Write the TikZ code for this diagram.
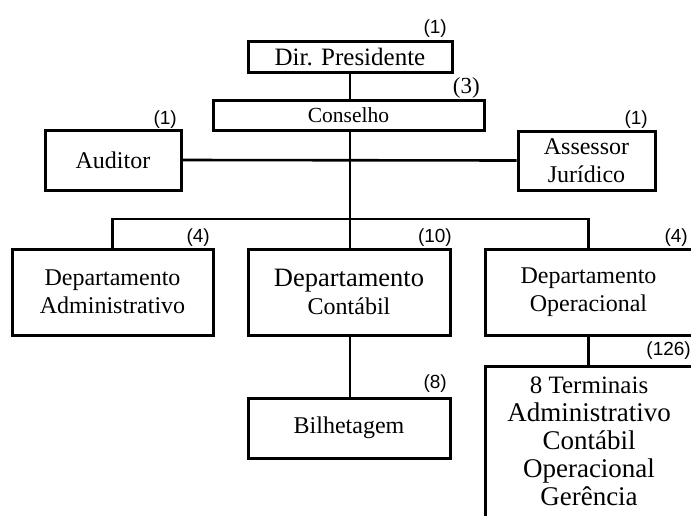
\documentclass[tikz,border=0pt]{standalone}
\usepackage{fontspec}
\setmainfont{Liberation Serif}
\newfontfamily\arialf{Liberation Sans}
\tikzset{
  box/.style={draw=black, line width=3pt, rectangle, inner sep=0pt, align=center},
  conn/.style={draw=black, line width=2.6pt},
  cnt/.style={anchor=base east, inner sep=0pt, font=\arialf\fontsize{19}{22}\selectfont},
  txt/.style={font=\fontsize{24}{28}\selectfont}
}
\begin{document}
\begin{tikzpicture}[x=1pt,y=-1pt]
\useasboundingbox (0,0) rectangle (691,515);
\clip (0,0) rectangle (691,515);
% boxes
\node[box, minimum width=204, minimum height=31, font=\fontsize{25}{28}\selectfont] (dir) at (350,56.5) {Dir. Presidente};
\node[box, minimum width=271, minimum height=30, font=\fontsize{21.5}{28}\selectfont] (cons) at (348.5,115) {Conselho};
\node[box, txt, minimum width=136, minimum height=60] (aud) at (113,160) {Auditor};
\node[box, txt, minimum width=137, minimum height=59] (ass) at (586.5,160.5) {Assessor\\Jurídico};
\node[box, txt, minimum width=201, minimum height=86] (adm) at (112.5,292) {Departamento\\Administrativo};
\node[box, minimum width=202, minimum height=86, font=\fontsize{26.5}{28}\selectfont] (cont) at (349,292) {Departamento\\{\fontsize{24}{28}\selectfont Contábil}};
\node[box, txt, minimum width=207, minimum height=86] (oper) at (588.5,292) {Departamento\\Operacional};
\node[box, txt, minimum width=202, minimum height=60] (bil) at (349,428) {Bilhetagem};
\node[box, minimum width=207, minimum height=164] (term) at (588.5,448) {};
\node[align=center, inner sep=0pt, font=\fontsize{27}{28}\selectfont] (termtext) at (589,441)
  {{\fontsize{25}{28}\selectfont 8 Terminais}\\Administrativo\\Contábil\\Operacional\\Gerência};
% counts
\node[cnt] (c1) at (447,33) {(1)};
\node[cnt, font=\fontsize{23}{26}\selectfont] (c3) at (480,93) {(3)};
\node[cnt] (c1a) at (177,124) {(1)};
\node[cnt] (c1b) at (648,124) {(1)};
\node[cnt] (c4a) at (210,242) {(4)};
\node[cnt] (c10) at (452,242) {(10)};
\node[cnt] (c4b) at (688,242) {(4)};
\node[cnt] (c8) at (447,388) {(8)};
\node[cnt] (c126) at (691,355) {(126)};
% connectors
\coordinate (bus) at (350,219);
\draw[conn] (dir.south) -- (cons.north -| dir.south);
\draw[conn] (cons.south -| dir.south) -- (bus);
\draw[conn] (aud.east) -- (ass.west);
\draw[conn] (adm.north) |- (bus) -| (oper.north);
\draw[conn] (bus) -- (cont.north -| bus);
\draw[conn] (cont.south -| bus) -- (bil.north -| bus);
\draw[conn] (oper.south) -- (term.north);
\end{tikzpicture}
\end{document}
